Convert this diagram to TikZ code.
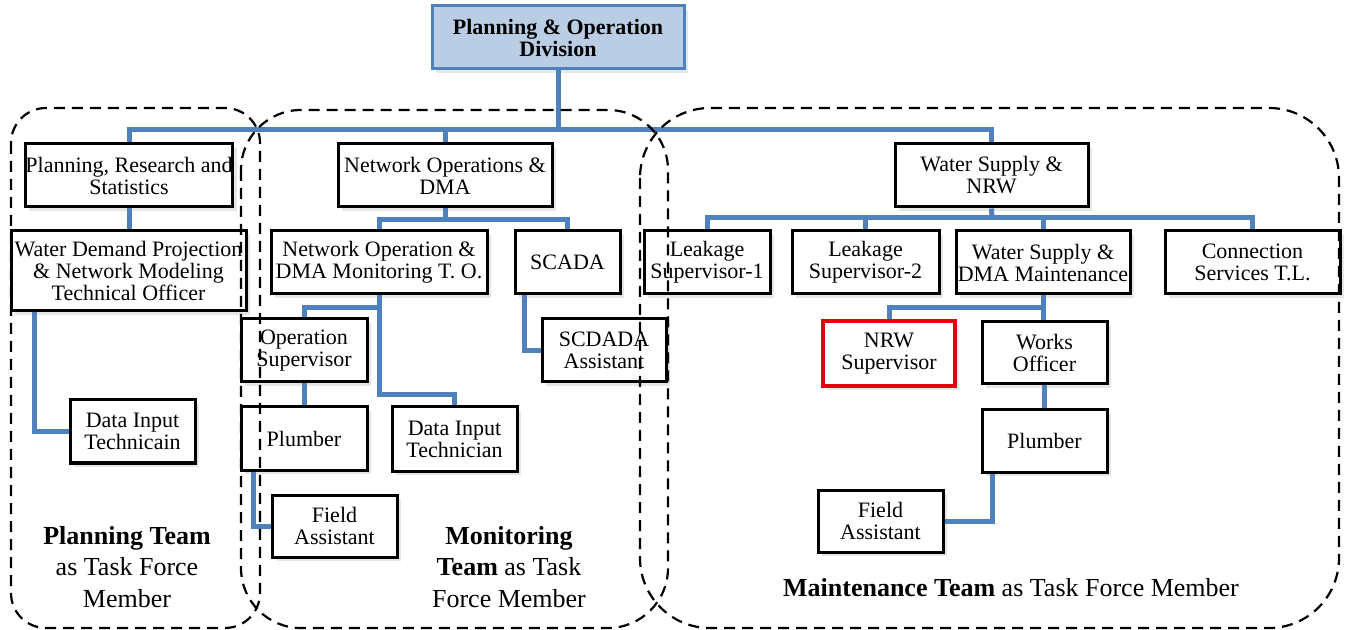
\documentclass[tikz,border=0pt]{standalone}
\usepackage{fontspec}
\setmainfont{Liberation Serif}
\usetikzlibrary{shadows}
\definecolor{orgblue}{HTML}{4F81BD}
\definecolor{topfill}{HTML}{B9CDE5}
\definecolor{nrwred}{HTML}{E3000F}
\begin{document}
\begin{tikzpicture}[x=0.5pt,y=-0.5pt,
  box/.style={draw=black,line width=1.5pt,fill=white,inner sep=0pt,align=center,
    font=\fontsize{11}{11}\selectfont,
    drop shadow={shadow xshift=2pt,shadow yshift=-2pt,opacity=0.2}},
  topbox/.style={box,draw=orgblue,fill=topfill,font=\bfseries\fontsize{11}{11}\selectfont},
  redbox/.style={box,draw=nrwred,line width=2.2pt},
  link/.style={draw=orgblue,line width=2.5pt},
  team/.style={draw=black,line width=1.1pt,dash pattern=on 5.5pt off 3.5pt},
  lbl/.style={align=center,font=\fontsize{13}{15.75}\selectfont}]
\useasboundingbox (0,0) rectangle (1349,630);

% coordinates for bus lines
\coordinate (bus) at (0,130);
\coordinate (b2) at (445,220);
\coordinate (b3) at (992,218);
\coordinate (c1) at (304,308);
\coordinate (c2) at (379,395);
\coordinate (c3) at (1043,308);

% boxes
\node[topbox,minimum width=126pt,minimum height=31.5pt] (top) at (558,37.5) {Planning \& Operation\\Division};
\node[box,minimum width=102pt,minimum height=31.5pt] (prs) at (129,175.5) {Planning, Research and\\Statistics};
\node[box,minimum width=107pt,minimum height=31.5pt] (nod) at (445,175.5) {Network Operations \&\\DMA};
\node[box,minimum width=96.5pt,minimum height=31.5pt] (wsn) at (991.5,175.5) {Water Supply \&\\NRW};
\node[box,minimum width=117.5pt,minimum height=40pt] (wdp) at (128.5,271) {Water Demand Projection\\\& Network Modeling\\Technical Officer};
\node[box,minimum width=108pt,minimum height=31.5pt] (nom) at (379,262.5) {Network Operation \&\\DMA Monitoring T. O.};
\node[box,minimum width=52.5pt,minimum height=31.5pt] (scada) at (567.5,262.5) {SCADA};
\node[box,minimum width=63pt,minimum height=31.5pt] (ls1) at (707,262.5) {Leakage\\Supervisor-1};
\node[box,minimum width=73.5pt,minimum height=31.5pt] (ls2) at (865.5,262.5) {Leakage\\Supervisor-2};
\node[box,minimum width=87pt,minimum height=31.5pt] (wsd) at (1043,262.5) {Water Supply \&\\DMA Maintenance};
\node[box,minimum width=87.5pt,minimum height=31.5pt] (csl) at (1252.5,262.5) {Connection\\Services T.L.};
\node[box,minimum width=62.5pt,minimum height=31.5pt] (dit1) at (132.5,431.5) {Data Input\\Technicain};
\node[box,minimum width=63pt,minimum height=31.5pt] (ops) at (304,350.5) {Operation\\Supervisor};
\node[box,minimum width=62pt,minimum height=31.5pt] (sca) at (604,350.5) {SCDADA\\Assistant};
\node[box,minimum width=63pt,minimum height=31.5pt] (pl1) at (304,438.5) {Plumber};
\node[box,minimum width=62.5pt,minimum height=32pt] (dit2) at (454.5,439) {Data Input\\Technician};
\node[box,minimum width=62.5pt,minimum height=31pt] (fa1) at (334.5,526) {Field\\Assistant};
\node[redbox,minimum width=66pt,minimum height=32.5pt] (nrw) at (889,353.5) {NRW\\Supervisor};
\node[box,minimum width=62.5pt,minimum height=31pt] (wo) at (1044.5,353) {Works\\Officer};
\node[box,minimum width=62.5pt,minimum height=31pt] (pl2) at (1044.5,441) {Plumber};
\node[box,minimum width=62.5pt,minimum height=31pt] (fa2) at (880.5,521) {Field\\Assistant};

% connectors
\draw[link] (top.south) -- (top.south |- bus);
\draw[link] (prs.north) -- (prs.north |- bus) -| (wsn.north);
\draw[link] (nod.north) -- (nod.north |- bus);
\draw[link] (prs.south) -- (prs.south |- wdp.north);
\draw[link] (nod.south) -- (b2);
\draw[link] (nom.north) |- (b2) -| (scada.north);
\draw[link] (wsn.south) -- (b3);
\draw[link] (ls1.north) |- (b3) -| (csl.north);
\draw[link] (ls2.north) -- (ls2.north |- b3);
\draw[link] (wsd.north) -- (wsd.north |- b3);
\draw[link] ([xshift=12.5pt]wdp.south west) |- (dit1.west);
\draw[link] (nom.south) |- (c1) -- (ops.north);
\draw[link] (nom.south) -- (c2) -| (dit2.north);
\draw[link] (ops.south) -- (pl1.north);
\draw[link] ([xshift=7pt]pl1.south west) |- (fa1.west);
\draw[link] ([xshift=5.5pt]scada.south west) |- (sca.west);
\draw[link] (wsd.south) -- (wsd.south |- wo.north);
\draw[link] (c3) -| (nrw.north);
\draw[link] (wo.south) -- (pl2.north);
\draw[link] ([xshift=6pt]pl2.south west) |- (fa2.east);

% team labels
\node[lbl] (lplan) at (127,567) {\textbf{Planning Team}\\as Task Force\\Member};
\node[lbl] (lmon) at (509,567) {\textbf{Monitoring}\\\textbf{Team} as Task\\Force Member};
\node[lbl] (lmain) at (1011,588) {\textbf{Maintenance Team} as Task Force Member};

% dashed team outlines
\draw[team,rounded corners=17.5pt] (11,108) rectangle (260,628);
\draw[team,rounded corners=30pt] (241,110) rectangle (668,628);
\draw[team,rounded corners=35pt] (640,108) rectangle (1339,628);
\end{tikzpicture}
\end{document}
